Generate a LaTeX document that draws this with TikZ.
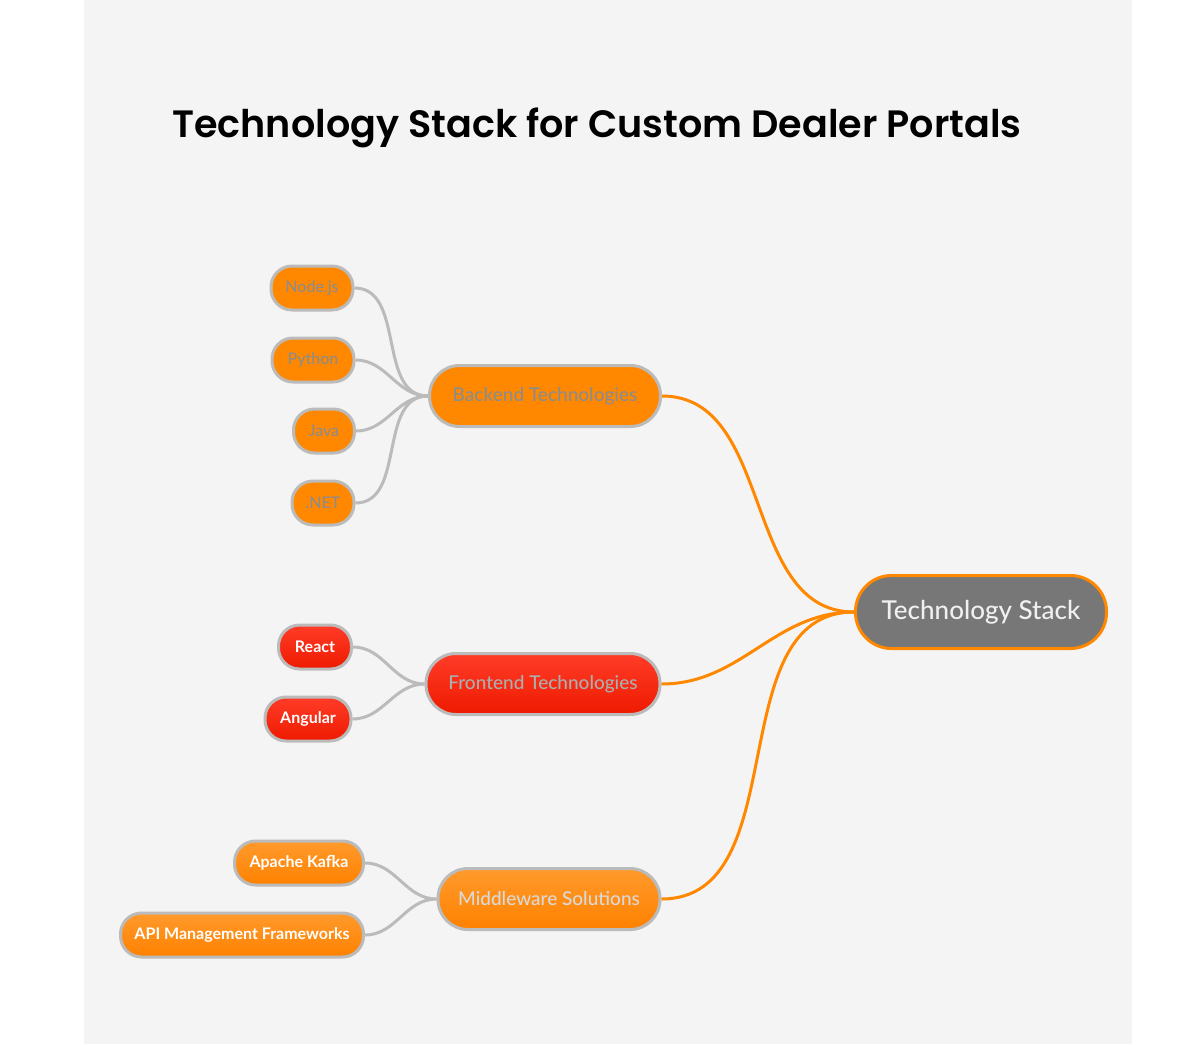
\documentclass[tikz,border=0pt]{standalone}
\usepackage{fontspec}
\setmainfont{Lato}[UprightFont=* Medium,BoldFont=* Bold]
\newfontfamily\titlefont{Poppins}[UprightFont=* SemiBold]
\usetikzlibrary{positioning}
\definecolor{panel}{HTML}{F4F4F4}
\definecolor{tangerine}{HTML}{FF8800}
\definecolor{rim}{HTML}{BBBBBB}
\definecolor{slate}{HTML}{777777}
\definecolor{hotred}{HTML}{FF3C28}
\definecolor{deepred}{HTML}{EE1A00}
\definecolor{paleorange}{HTML}{FF9A2C}

\begin{document}
\begin{tikzpicture}[x=1pt,y=-1pt,
  rootbox/.style={draw=tangerine,line width=3pt,fill=slate,rounded corners=36pt,
    minimum width=251pt,minimum height=73pt,text=white!94!black,font=\fontsize{26}{29}\selectfont},
  branch/.style={draw=rim,line width=3pt,rounded corners=30pt,minimum height=61pt,
    font=\fontsize{19}{22}\selectfont},
  leaf/.style={draw=rim,line width=3pt,rounded corners=21pt,minimum height=44pt,
    font=\fontsize{16}{19}\selectfont},
  boldleaf/.style={leaf,text=white,font=\bfseries\fontsize{16}{19}\selectfont},
  flat/.style={fill=tangerine},
  redgrad/.style={top color=hotred,bottom color=deepred},
  orangegrad/.style={top color=paleorange,bottom color=tangerine!95!red},
  twig/.style={draw=rim,line width=3pt},
  trunk/.style={draw=tangerine,line width=3pt}]
  \fill[white] (0,0) rectangle (1196,1044);
  \fill[panel] (84,0) rectangle (1132,1044);
  \useasboundingbox (0,0) rectangle (1196,1044);
  \node[anchor=base,inner sep=0pt,font=\titlefont\fontsize{38.1}{42}\selectfont] (title) at (597,137) {Technology Stack for Custom Dealer Portals};

  \node[rootbox] (root) at (981,612) {Technology Stack};

  \node[branch,flat,minimum width=231pt,text=gray!90] (backend) at (545,396) {Backend Technologies};
  \node[branch,redgrad,minimum width=234pt,text=white!68!black] (frontend) at (543,684) {Frontend Technologies};
  \node[branch,orangegrad,minimum width=222pt,text=white!85!black] (middleware) at (549,899) {Middleware Solutions};

  \node[leaf,flat,minimum width=82pt,text=gray!90] (nodejs) at (312,288) {Node.js};
  \node[leaf,flat,minimum width=82pt,text=gray!90] (python) at (313,360) {Python};
  \node[leaf,flat,minimum width=61pt,text=gray!90] (java) at (324,431) {Java};
  \node[leaf,flat,minimum width=62pt,text=gray!90] (dotnet) at (323,503) {.NET};

  \node[boldleaf,redgrad,minimum width=73pt] (react) at (315,647) {React};
  \node[boldleaf,redgrad,minimum width=86pt] (angular) at (308,719) {Angular};

  \node[boldleaf,orangegrad,minimum width=129pt] (kafka) at (299,863) {Apache Kafka};
  \node[boldleaf,orangegrad,minimum width=243pt] (apimgmt) at (242,935) {API Management Frameworks};

  \foreach \leafname in {nodejs,python,java,dotnet}
    \draw[twig] (\leafname.east) to[out=0,in=180] (backend.west);
  \foreach \leafname in {react,angular}
    \draw[twig] (\leafname.east) to[out=0,in=180] (frontend.west);
  \foreach \leafname in {kafka,apimgmt}
    \draw[twig] (\leafname.east) to[out=0,in=180] (middleware.west);
  \foreach \branchname in {backend,frontend,middleware}
    \draw[trunk] (\branchname.east) to[out=0,in=180] (root.west);
\end{tikzpicture}
\end{document}
